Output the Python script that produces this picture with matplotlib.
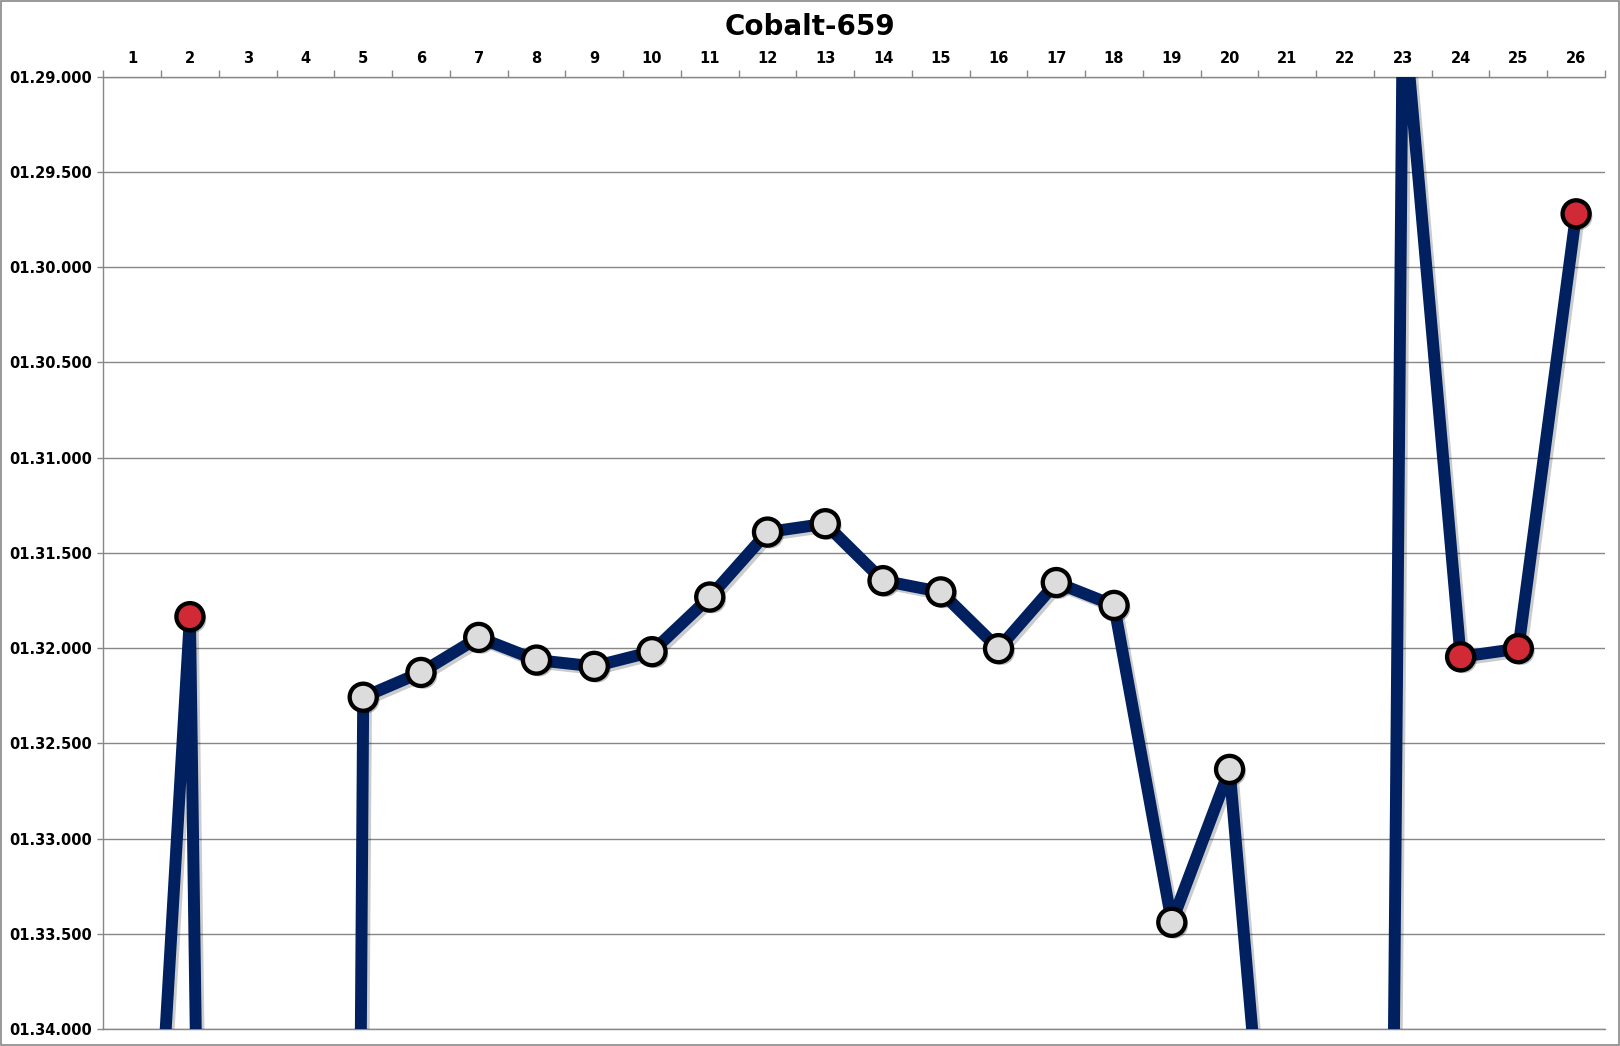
import matplotlib
matplotlib.use("Agg")
import matplotlib.pyplot as plt
import matplotlib.patheffects as pe
from matplotlib.patches import Rectangle
from matplotlib.ticker import FuncFormatter, FixedLocator

# ---- data (lap times in seconds) ----
laps = list(range(1, 27))
lap_times = [97.0, 91.835, 113.4, 135.0, 92.258, 92.128, 91.944, 92.063, 92.096,
             92.019, 91.732, 91.391, 91.347, 91.646, 91.705, 92.003, 91.656,
             91.776, 93.440, 92.637, 96.13, 123.8, 88.6, 92.046, 92.003, 89.720]
red_laps = [2, 24, 25, 26]
title = "Cobalt-659"
y_min, y_max, y_step = 89.0, 94.0, 0.5

W, H = 1620, 1046
fig = plt.figure(figsize=(W / 100, H / 100), dpi=100)
ax = fig.add_axes([103.3 / W, 1 - 1029 / H, (1605 - 103.3) / W, (1029 - 76.7) / H])

navy = "#002060"
shadow = [pe.SimpleLineShadow(offset=(2, -2), shadow_color="#000000", alpha=0.2), pe.Normal()]
ax.plot(laps, lap_times, color=navy, lw=8.6, solid_joinstyle="round", zorder=3,
        path_effects=shadow)

face = ["#d12a36" if l in red_laps else "#dcdcdc" for l in laps]
sc = ax.scatter(laps, lap_times, s=380, c=face, edgecolors="black", linewidths=3.1, zorder=4,
                path_effects=[pe.SimplePatchShadow(offset=(2, -2), shadow_rgbFace="#000000",
                                                   alpha=0.25), pe.Normal()])

ax.set_xlim(0.5, 26.5)
ax.set_ylim(y_max, y_min)

def fmt(v, pos):
    total_ms = int(round(v * 1000))
    m, rem = divmod(total_ms, 60000)
    s, ms = divmod(rem, 1000)
    return f"{m:02d}.{s:02d}.{ms:03d}"

yt = [y_min + i * y_step for i in range(int(round((y_max - y_min) / y_step)) + 1)]
ax.yaxis.set_major_locator(FixedLocator(yt))
ax.yaxis.set_major_formatter(FuncFormatter(fmt))
ax.grid(axis="y", color="#878787", lw=1)
ax.set_axisbelow(True)

ax.xaxis.tick_top()
ax.xaxis.set_major_locator(FixedLocator([i + 0.5 for i in range(0, 27)]))
ax.xaxis.set_minor_locator(FixedLocator(laps))
ax.xaxis.set_major_formatter(FuncFormatter(lambda v, p: ""))
ax.xaxis.set_minor_formatter(FuncFormatter(lambda v, p: str(int(round(v)))))
ax.tick_params(axis="x", which="major", direction="out", length=5, color="#878787", width=1)
ax.tick_params(axis="x", which="minor", length=0, pad=8)
ax.tick_params(axis="y", direction="out", length=4, color="#878787", width=1, pad=4)
for lab in ax.get_xticklabels(minor=True) + ax.get_yticklabels():
    lab.set_fontweight("bold")
    lab.set_fontsize(10.5)

ax.spines["right"].set_visible(False)
for side in ["left", "top", "bottom"]:
    ax.spines[side].set_color("#878787")
    ax.spines[side].set_linewidth(1)

fig.text(0.5, 1 - 27 / H, title, ha="center", va="center", fontsize=20, fontweight="bold")
fig.patches.append(Rectangle((0.0006, 0.001), 0.9988, 0.998, transform=fig.transFigure,
                             fill=False, edgecolor="#878787", lw=1.2))

fig.savefig("out.png", dpi=100)
